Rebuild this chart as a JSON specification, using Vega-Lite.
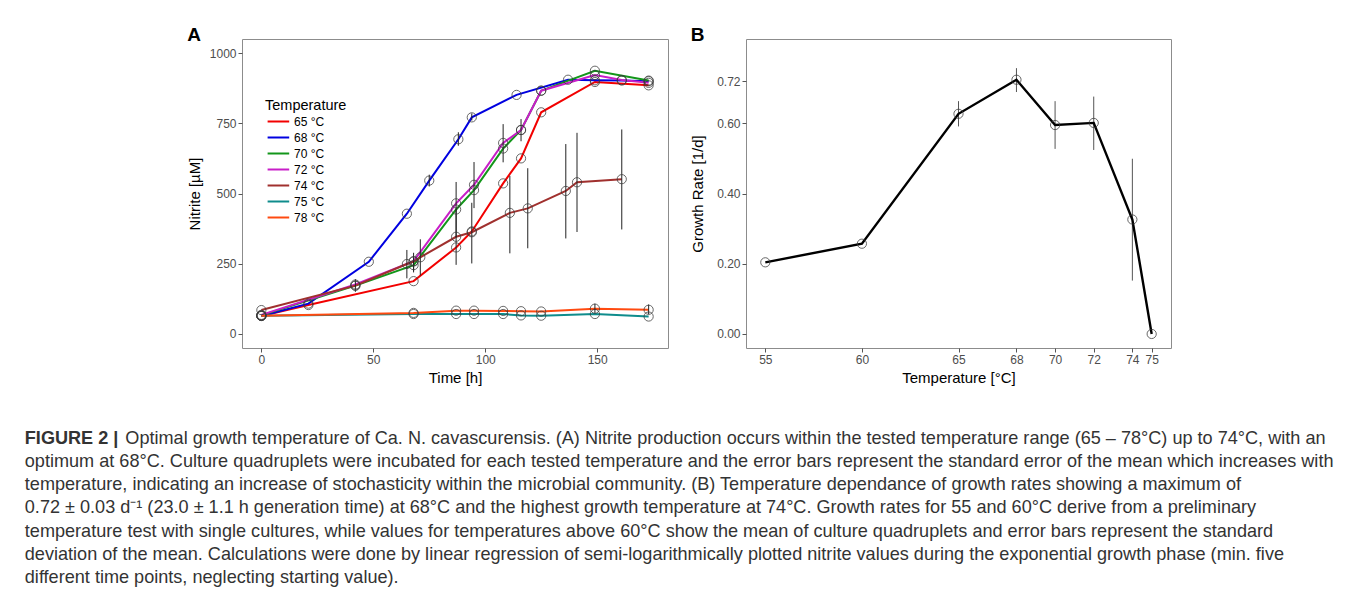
{
  "$schema": "https://vega.github.io/schema/vega-lite/v6.json",
  "background": "white",
  "padding": {"left": 24, "top": 25, "right": 5, "bottom": 5},
  "config": {
    "font": "Liberation Sans",
    "view": {"stroke": "#8c8c8c", "strokeWidth": 1},
    "axis": {"grid": false, "domain": false, "tickColor": "#555555", "tickSize": 4, "labelColor": "#4d4d4d", "labelFontSize": 12, "titleFontSize": 15, "titleFontWeight": "normal", "titleColor": "#000000", "labelPadding": 2, "titlePadding": 5},
    "title": {"font": "Liberation Sans"}
  },
  "datasets": {
    "nitrite": [
      {"t": 0, "v": 64, "temp": "65 °C"},
      {"t": 21, "v": 103, "temp": "65 °C"},
      {"t": 68, "v": 188, "temp": "65 °C"},
      {"t": 87, "v": 308, "temp": "65 °C"},
      {"t": 94, "v": 365, "temp": "65 °C"},
      {"t": 108, "v": 536, "temp": "65 °C"},
      {"t": 116, "v": 625, "temp": "65 °C"},
      {"t": 125, "v": 789, "temp": "65 °C"},
      {"t": 149, "v": 897, "temp": "65 °C"},
      {"t": 173, "v": 885, "temp": "65 °C"},
      {"t": 0, "v": 64, "temp": "68 °C"},
      {"t": 21, "v": 108, "temp": "68 °C"},
      {"t": 48, "v": 257, "temp": "68 °C"},
      {"t": 65, "v": 428, "temp": "68 °C"},
      {"t": 75, "v": 546, "temp": "68 °C", "lo": 525, "hi": 567},
      {"t": 88, "v": 693, "temp": "68 °C", "lo": 670, "hi": 718},
      {"t": 94, "v": 771, "temp": "68 °C", "lo": 760, "hi": 785},
      {"t": 114, "v": 851, "temp": "68 °C"},
      {"t": 137, "v": 905, "temp": "68 °C"},
      {"t": 149, "v": 903, "temp": "68 °C"},
      {"t": 161, "v": 902, "temp": "68 °C"},
      {"t": 173, "v": 900, "temp": "68 °C"},
      {"t": 0, "v": 66, "temp": "70 °C"},
      {"t": 42, "v": 172, "temp": "70 °C"},
      {"t": 68, "v": 245, "temp": "70 °C", "lo": 225, "hi": 270},
      {"t": 87, "v": 443, "temp": "70 °C", "lo": 345, "hi": 541},
      {"t": 95, "v": 512, "temp": "70 °C"},
      {"t": 108, "v": 660, "temp": "70 °C"},
      {"t": 116, "v": 726, "temp": "70 °C"},
      {"t": 125, "v": 866, "temp": "70 °C"},
      {"t": 149, "v": 937, "temp": "70 °C"},
      {"t": 173, "v": 902, "temp": "70 °C"},
      {"t": 0, "v": 68, "temp": "72 °C"},
      {"t": 42, "v": 176, "temp": "72 °C"},
      {"t": 68, "v": 259, "temp": "72 °C"},
      {"t": 87, "v": 465, "temp": "72 °C"},
      {"t": 95, "v": 531, "temp": "72 °C", "lo": 448, "hi": 612},
      {"t": 108, "v": 680, "temp": "72 °C", "lo": 611, "hi": 747},
      {"t": 116, "v": 726, "temp": "72 °C", "lo": 686, "hi": 765},
      {"t": 125, "v": 866, "temp": "72 °C"},
      {"t": 149, "v": 922, "temp": "72 °C"},
      {"t": 161, "v": 904, "temp": "72 °C"},
      {"t": 173, "v": 894, "temp": "72 °C"},
      {"t": 0, "v": 85, "temp": "74 °C"},
      {"t": 42, "v": 172, "temp": "74 °C", "lo": 150, "hi": 195},
      {"t": 65, "v": 249, "temp": "74 °C", "lo": 198, "hi": 299},
      {"t": 68, "v": 258, "temp": "74 °C", "lo": 219, "hi": 289},
      {"t": 71, "v": 273, "temp": "74 °C", "lo": 208, "hi": 337},
      {"t": 87, "v": 346, "temp": "74 °C", "lo": 246, "hi": 446},
      {"t": 94, "v": 362, "temp": "74 °C", "lo": 251, "hi": 467},
      {"t": 111, "v": 431, "temp": "74 °C", "lo": 287, "hi": 563},
      {"t": 119, "v": 447, "temp": "74 °C", "lo": 305, "hi": 590},
      {"t": 136, "v": 509, "temp": "74 °C", "lo": 340, "hi": 676},
      {"t": 141, "v": 540, "temp": "74 °C", "lo": 363, "hi": 716},
      {"t": 161, "v": 551, "temp": "74 °C", "lo": 372, "hi": 728},
      {"t": 0, "v": 65, "temp": "75 °C"},
      {"t": 68, "v": 71, "temp": "75 °C"},
      {"t": 87, "v": 71, "temp": "75 °C"},
      {"t": 95, "v": 71, "temp": "75 °C"},
      {"t": 108, "v": 71, "temp": "75 °C"},
      {"t": 116, "v": 66, "temp": "75 °C"},
      {"t": 125, "v": 65, "temp": "75 °C"},
      {"t": 149, "v": 71, "temp": "75 °C"},
      {"t": 173, "v": 62, "temp": "75 °C"},
      {"t": 0, "v": 65, "temp": "78 °C"},
      {"t": 68, "v": 75, "temp": "78 °C"},
      {"t": 87, "v": 83, "temp": "78 °C"},
      {"t": 95, "v": 83, "temp": "78 °C"},
      {"t": 108, "v": 82, "temp": "78 °C"},
      {"t": 116, "v": 81, "temp": "78 °C"},
      {"t": 125, "v": 80, "temp": "78 °C"},
      {"t": 149, "v": 90, "temp": "78 °C", "lo": 75, "hi": 108},
      {"t": 173, "v": 86, "temp": "78 °C", "lo": 70, "hi": 105}
    ],
    "growth": [
      {"temp": 55, "rate": 0.204},
      {"temp": 60, "rate": 0.257},
      {"temp": 65, "rate": 0.627, "lo": 0.591, "hi": 0.663},
      {"temp": 68, "rate": 0.724, "lo": 0.689, "hi": 0.757},
      {"temp": 70, "rate": 0.595, "lo": 0.527, "hi": 0.663},
      {"temp": 72, "rate": 0.601, "lo": 0.524, "hi": 0.676},
      {"temp": 74, "rate": 0.326, "lo": 0.152, "hi": 0.499},
      {"temp": 75, "rate": 0.0}
    ]
  },
  "title": {
    "text": "FIGURE 2 |",
    "subtitle": [
      "\u200b\u00a0\u00a0\u00a0\u00a0\u00a0\u00a0\u00a0\u00a0\u00a0\u00a0\u00a0\u00a0\u00a0\u00a0\u00a0\u00a0\u00a0\u00a0\u00a0\u00a0Optimal growth temperature of Ca. N. cavascurensis. (A) Nitrite production occurs within the tested temperature range (65 – 78°C) up to 74°C, with an",
      "optimum at 68°C. Culture quadruplets were incubated for each tested temperature and the error bars represent the standard error of the mean which increases with",
      "temperature, indicating an increase of stochasticity within the microbial community. (B) Temperature dependance of growth rates showing a maximum of",
      "0.72 ± 0.03 d⁻¹ (23.0 ± 1.1 h generation time) at 68°C and the highest growth temperature at 74°C. Growth rates for 55 and 60°C derive from a preliminary",
      "temperature test with single cultures, while values for temperatures above 60°C show the mean of culture quadruplets and error bars represent the standard",
      "deviation of the mean. Calculations were done by linear regression of semi-logarithmically plotted nitrite values during the exponential growth phase (min. five",
      "different time points, neglecting starting value)."
    ],
    "orient": "bottom",
    "anchor": "start",
    "frame": "bounds",
    "dx": -162,
    "offset": 44,
    "fontSize": 18.1,
    "fontWeight": "bold",
    "color": "#333333",
    "subtitleFontSize": 18.1,
    "subtitleFontWeight": "normal",
    "subtitleColor": "#333333",
    "subtitleLineHeight": 23.3,
    "subtitlePadding": -18.1
  },
  "spacing": 21,
  "hconcat": [
    {
      "width": 426,
      "height": 309,
      "title": {"text": "A", "anchor": "start", "frame": "bounds", "fontSize": 19, "fontWeight": "bold", "color": "#000000", "offset": -6},
      "data": {"name": "nitrite"},
      "layer": [
        {
          "mark": {"type": "line", "strokeWidth": 2},
          "encoding": {
            "x": {"field": "t", "type": "quantitative", "scale": {"domain": [-8.65, 181.65], "nice": false, "zero": false}, "axis": {"values": [0, 50, 100, 150], "title": "Time [h]"}},
            "y": {"field": "v", "type": "quantitative", "scale": {"domain": [-50, 1050], "nice": false}, "axis": {"values": [0, 250, 500, 750, 1000], "format": "d", "title": "Nitrite [µM]", "titlePadding": 7}},
            "color": {
              "field": "temp", "type": "nominal",
              "scale": {"domain": ["65 °C", "68 °C", "70 °C", "72 °C", "74 °C", "75 °C", "78 °C"], "range": ["#f20000", "#0000e0", "#13961a", "#c81ec8", "#a0302e", "#0f8c8c", "#ff4a10"]},
              "legend": {"orient": "none", "legendX": 23, "legendY": 60, "padding": 0, "title": "Temperature", "titleFontSize": 14.5, "titleFontWeight": "normal", "titleColor": "#000000", "titlePadding": -1, "labelFontSize": 12, "labelColor": "#000000", "labelOffset": 11, "symbolType": "M-0.8,0H1.9", "symbolStrokeWidth": 2, "symbolSize": 256, "rowPadding": 1}
            }
          }
        },
        {
          "transform": [{"filter": "isValid(datum.lo)"}],
          "mark": {"type": "rule", "color": "#222222", "strokeWidth": 1},
          "encoding": {
            "x": {"field": "t", "type": "quantitative"},
            "y": {"field": "lo", "type": "quantitative"},
            "y2": {"field": "hi"}
          }
        },
        {
          "mark": {"type": "point", "shape": "circle", "filled": false, "size": 85, "color": "#3a3a3a", "strokeWidth": 0.9, "opacity": 0.85},
          "encoding": {
            "x": {"field": "t", "type": "quantitative"},
            "y": {"field": "v", "type": "quantitative"}
          }
        }
      ]
    },
    {
      "width": 425,
      "height": 309,
      "title": {"text": "B", "anchor": "start", "frame": "bounds", "fontSize": 19, "fontWeight": "bold", "color": "#000000", "offset": -6},
      "data": {"name": "growth"},
      "layer": [
        {
          "transform": [{"filter": "isValid(datum.lo)"}],
          "mark": {"type": "rule", "color": "#555555", "strokeWidth": 1},
          "encoding": {
            "x": {"field": "temp", "type": "quantitative"},
            "y": {"field": "lo", "type": "quantitative"},
            "y2": {"field": "hi"}
          }
        },
        {
          "mark": {"type": "line", "strokeWidth": 2.4, "color": "#000000"},
          "encoding": {
            "x": {"field": "temp", "type": "quantitative", "scale": {"domain": [54, 76], "nice": false, "zero": false}, "axis": {"values": [55, 60, 65, 68, 70, 72, 74, 75], "title": "Temperature [°C]"}},
            "y": {"field": "rate", "type": "quantitative", "scale": {"domain": [-0.04, 0.84], "nice": false}, "axis": {"values": [0, 0.2, 0.4, 0.6, 0.72], "format": ".2f", "title": "Growth Rate [1/d]", "titlePadding": 11}}
          }
        },
        {
          "mark": {"type": "point", "shape": "circle", "filled": false, "size": 85, "color": "#3a3a3a", "strokeWidth": 0.9, "opacity": 0.85},
          "encoding": {
            "x": {"field": "temp", "type": "quantitative"},
            "y": {"field": "rate", "type": "quantitative"}
          }
        }
      ]
    }
  ]
}
